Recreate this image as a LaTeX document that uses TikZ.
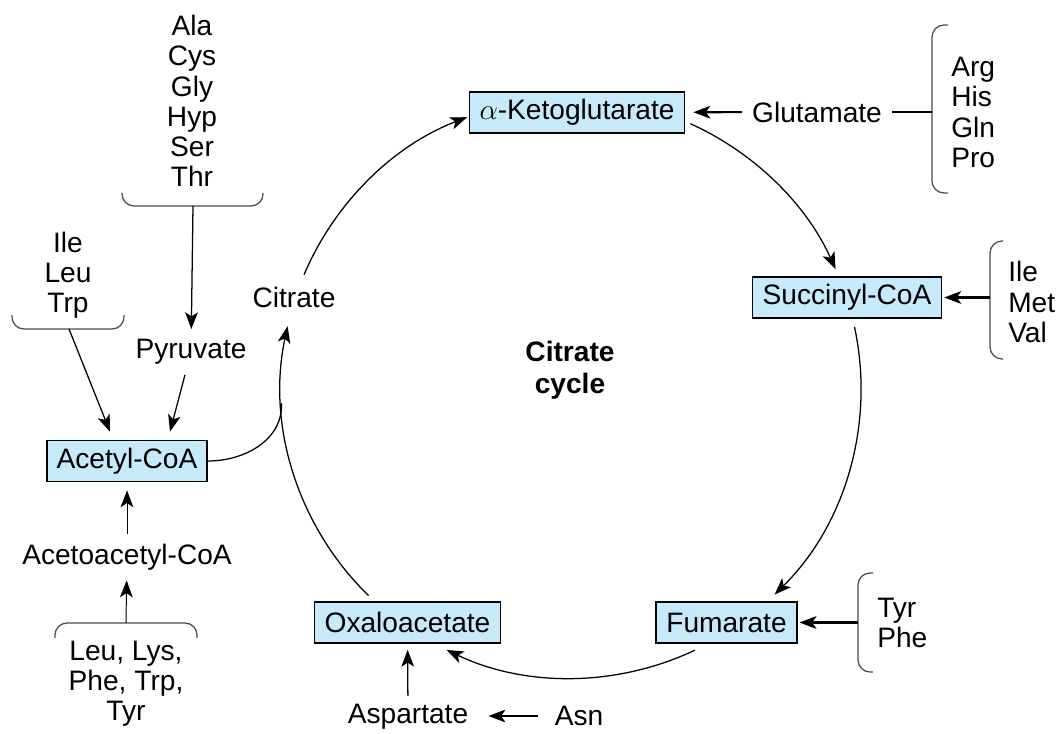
\documentclass[tikz,border=0pt]{standalone}
\usepackage{fontspec}
\setmainfont{Liberation Sans}
\usetikzlibrary{arrows.meta,calc}

\definecolor{metabblue}{RGB}{198,234,250}

\begin{document}
\begin{tikzpicture}[
    x=0.025cm, y=0.025cm,
    font=\fontsize{20}{21.5}\selectfont,
    metab/.style={
        rectangle,
        draw=black,
        line width=1.2pt,
        fill=metabblue,
        minimum height=1.025cm,
        inner xsep=0.25cm,
        inner ysep=0pt
    },
    txt/.style={
        inner sep=0.25cm,
        align=center
    },
    group/.style={
        inner sep=0.25cm,
        align=left,
        anchor=west
    },
    curly/.style={
        draw=black!70,
        line width=0.9pt,
        rounded corners=0.3cm
    },
    arrow/.style={-{Stealth[length=12pt,width=9pt,inset=3pt]}, line width=0.9pt},
    thickarrow/.style={arrow, line width=1.5pt},
    cyc/.style={line width=0.9pt}
]

\useasboundingbox (0,0) rectangle (1056,-734);

% =========================================================
% METABOLITES OF THE CYCLE
% =========================================================

\node[metab] (keto) at (577,-112.5) {$\alpha$-Ketoglutarate};
\node[metab] (succ) at (847,-297.5) {Succinyl-CoA};
\node[metab] (fum) at (726.5,-622.5) {Fumarate};
\node[metab] (oxalo) at (407.5,-622.5) {Oxaloacetate};
\node[metab] (acetyl) at (127,-461) {Acetyl-CoA};

\node[txt] (citrate) at (294,-297) {Citrate};
\node[txt, font=\fontsize{20}{22.5}\selectfont\bfseries] (cyclename)
at (570,-370) {Citrate\\cycle};

% =========================================================
% INTERMEDIATES AND AMINO ACIDS
% =========================================================

\node[txt] (glut) at (817,-112) {Glutamate};
\node[txt] (pyr) at (191,-352) {Pyruvate};
\node[txt] (acac) at (127,-557) {Acetoacetyl-CoA};
\node[txt, inner sep=0.1cm] (asp) at (408,-717) {Aspartate};
\node[txt, inner sep=0.1cm] (asn) at (579,-716) {Asn};

\node[txt] (glyco) at (192,-101) {Ala\\Cys\\Gly\\Hyp\\Ser\\Thr};
\node[txt] (ilt) at (68,-275) {Ile\\Leu\\Trp};
\node[txt, inner sep=0.1cm] (ketog) at (126,-684) {Leu, Lys,\\Phe, Trp,\\Tyr};
\node[group] (kglu) at (941,-112.5) {Arg\\His\\Gln\\Pro};
\node[group] (scoa) at (998,-302) {Ile\\Met\\Val};
\node[group] (fumaa) at (867,-623) {Tyr\\Phe};

% =========================================================
% BRACES
% =========================================================

\draw[curly] (122,-193) -- (122,-206) -- (263,-206) -- (263,-193);
\draw[curly] (12,-315) -- (12,-329) -- (124,-329) -- (124,-315);
\draw[curly] (55,-638) -- (55,-623) -- (197,-623) -- (197,-638);
\draw[curly] (948,-25) -- (932,-25) -- (932,-193) -- (948,-193);
\draw[curly] (1003,-241) -- (990,-241) -- (990,-359) -- (1003,-359);
\draw[curly] (873,-573) -- (858,-573) -- (858,-672) -- (873,-672);

\coordinate (glycostem) at (193,-206);
\coordinate (iltstem) at (69,-329);
\coordinate (ketogstem) at (126,-623);
\coordinate (kglustem) at (932,-112);
\coordinate (scoastem) at (990,-297.5);
\coordinate (fumaastem) at (858,-622.5);

% =========================================================
% FEEDER ARROWS
% =========================================================

\draw[arrow] (glycostem) -- (pyr);
\draw[arrow] (iltstem) -- ($(acetyl.north)+(-17,8)$);
\draw[arrow] (pyr) -- ($(acetyl.north)+(43,8)$);
\draw[arrow, line width=0.7pt, shorten >=0.2cm] (acac) -- (acetyl);
\draw[arrow, line width=0.7pt] (ketogstem) -- (acac);

\draw[line width=1.5pt] (glut) -- (kglustem);
\draw[thickarrow, shorten >=0.2cm] (glut) -- (keto);
\draw[thickarrow, shorten >=0.05cm] (scoastem) -- (succ);
\draw[thickarrow, shorten >=0.05cm] (fumaastem) -- (fum);

\draw[arrow, shorten >=0.4cm, shorten <=0.3cm] (asn.west) -- (asn.west -| asp.east);
\draw[arrow, shorten >=0.15cm, shorten <=0.1cm] (asp) -- (oxalo);

% =========================================================
% THE CYCLE
% =========================================================

\coordinate (ctr) at (571,-388);
\coordinate (citout) at ($(ctr)+(157:290)$);
\coordinate (ketoout) at ($(ctr)+(65.7:290)$);
\coordinate (succout) at ($(ctr)+(12.2:290)$);
\coordinate (fumout) at ($(ctr)+(-64.7:290)$);
\coordinate (oxaloout) at ($(ctr)+(225.7:290)$);
\coordinate (merge) at ($(ctr)+(183:290)$);

\draw[arrow, cyc] (citout) arc[start angle=157, end angle=111, radius=7.25cm];
\draw[arrow, cyc] (ketoout) arc[start angle=65.7, end angle=24.2, radius=7.25cm];
\draw[arrow, cyc] (succout) arc[start angle=12.2, end angle=-45.4, radius=7.25cm];
\draw[arrow, cyc] (fumout) arc[start angle=-64.7, end angle=-115.4, radius=7.25cm];
\draw[arrow, cyc] (oxaloout) arc[start angle=225.7, end angle=167.7, radius=7.25cm];

\draw[cyc] (acetyl.east) to[out=0, in=-87] (merge);

\end{tikzpicture}
\end{document}
